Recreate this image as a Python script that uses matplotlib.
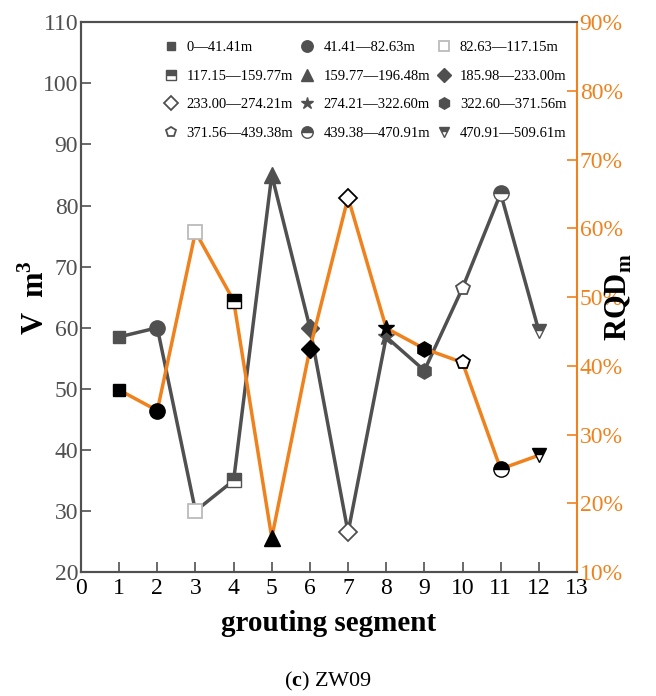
import matplotlib.pyplot as plt

plt.rcParams['font.family'] = ['Liberation Serif', 'DejaVu Serif']
plt.rcParams['mathtext.fontset'] = 'custom'
plt.rcParams['mathtext.rm'] = 'Liberation Serif'
plt.rcParams['mathtext.bf'] = 'Liberation Serif:bold'

seg = [1, 2, 3, 4, 5, 6, 7, 8, 9, 10, 11, 12]
v = [58.5, 60, 30, 35, 85, 60, 26.5, 58.5, 53, 66.5, 82, 59.5]
rqd = [36.5, 33.5, 59.5, 49.5, 15, 42.5, 64.5, 45.5, 42.5, 40.5, 25, 27]
labels = ['0—41.41m', '41.41—82.63m', '82.63—117.15m', '117.15—159.77m',
          '159.77—196.48m', '185.98—233.00m', '233.00—274.21m', '274.21—322.60m',
          '322.60—371.56m', '371.56—439.38m', '439.38—470.91m', '470.91—509.61m']
markers = ['s', 'o', 's', 's', '^', 'D', 'D', '*', 'h', 'p', 'o', 'v']
fills = ['full', 'full', 'none', 'top', 'full', 'full', 'none', 'full', 'full', 'none', 'top', 'top']
sizes = [8, 11, 10, 10, 11, 9, 9, 12, 11, 10, 11, 10]

gray = '#505050'
orange = '#f0821e'

fig = plt.figure(figsize=(6.56, 6.96), dpi=100)
ax = fig.add_axes([0.1235, 0.178, 0.756, 0.790])
ax2 = ax.twinx()

ax.plot(seg, v, color=gray, lw=2.5, zorder=2)
ax2.plot(seg, rqd, color=orange, lw=2.5, zorder=2)

handles = []
for i in range(len(seg)):
    fs = fills[i]
    if fs == 'none':
        ec_g = '#bbbbbb' if markers[i] == 's' else gray
        ec_o = '#bbbbbb' if markers[i] == 's' else 'black'
        h, = ax.plot(seg[i], v[i], marker=markers[i], ms=sizes[i], ls='none',
                     markerfacecolor='white', markeredgecolor=ec_g,
                     markeredgewidth=1.3, zorder=3)
        ax2.plot(seg[i], rqd[i], marker=markers[i], ms=sizes[i], ls='none',
                 markerfacecolor='white', markeredgecolor=ec_o,
                 markeredgewidth=1.3, zorder=3)
    else:
        h, = ax.plot(seg[i], v[i], marker=markers[i], ms=sizes[i], ls='none',
                     color=gray, fillstyle=fs, markerfacecoloralt='white',
                     markeredgecolor=gray, markeredgewidth=1, zorder=3)
        ax2.plot(seg[i], rqd[i], marker=markers[i], ms=sizes[i], ls='none',
                 color='black', fillstyle=fs, markerfacecoloralt='white',
                 markeredgecolor='black', markeredgewidth=1, zorder=3)
    handles.append(h)

ax.set_xlim(0, 13)
ax.set_ylim(20, 110)
ax2.set_ylim(10, 90)
ax.set_xticks(range(0, 14))
ax.set_yticks(range(20, 111, 10))
ax2.set_yticks(range(10, 91, 10))
ax2.set_yticklabels(['%d%%' % t for t in range(10, 91, 10)])

ax.tick_params(axis='x', direction='in', length=7, width=1.2, labelsize=17,
               colors='black', pad=4)
ax.tick_params(axis='y', direction='in', length=7, width=1.2, labelsize=17,
               colors=gray, pad=2)
ax2.tick_params(axis='y', direction='in', length=7, width=1.2, labelsize=17,
                colors=orange, pad=2)
ax.xaxis.set_tick_params(color=gray)

for s in ['left', 'top', 'bottom']:
    for a in (ax, ax2):
        a.spines[s].set_color(gray)
        a.spines[s].set_linewidth(1.5)
ax2.spines['right'].set_color(orange)
ax2.spines['right'].set_linewidth(1.5)
ax.spines['right'].set_visible(False)

ax.set_ylabel('V  m$^\\mathbf{3}$', fontsize=22, fontweight='bold', labelpad=-6)
ax2.set_ylabel('RQD$_\\mathbf{m}$', fontsize=22, fontweight='bold', labelpad=-14)
ax.set_xlabel('grouting segment', fontsize=21, fontweight='bold', labelpad=8)

# legend filled row by row, like the original
order = [0, 3, 6, 9, 1, 4, 7, 10, 2, 5, 8, 11]
ax.legend([handles[k] for k in order], [labels[k] for k in order], ncol=3,
          frameon=False, loc='upper left', bbox_to_anchor=(0.135, 0.99),
          fontsize=10.5, handletextpad=0.45, columnspacing=0.3,
          labelspacing=1.05, handlelength=1.3, markerscale=0.75)

fig.text(0.5, 0.005, '($\\mathbf{c}$) ZW09', ha='center', va='bottom', fontsize=16)

fig.savefig('out.png', dpi=100)
